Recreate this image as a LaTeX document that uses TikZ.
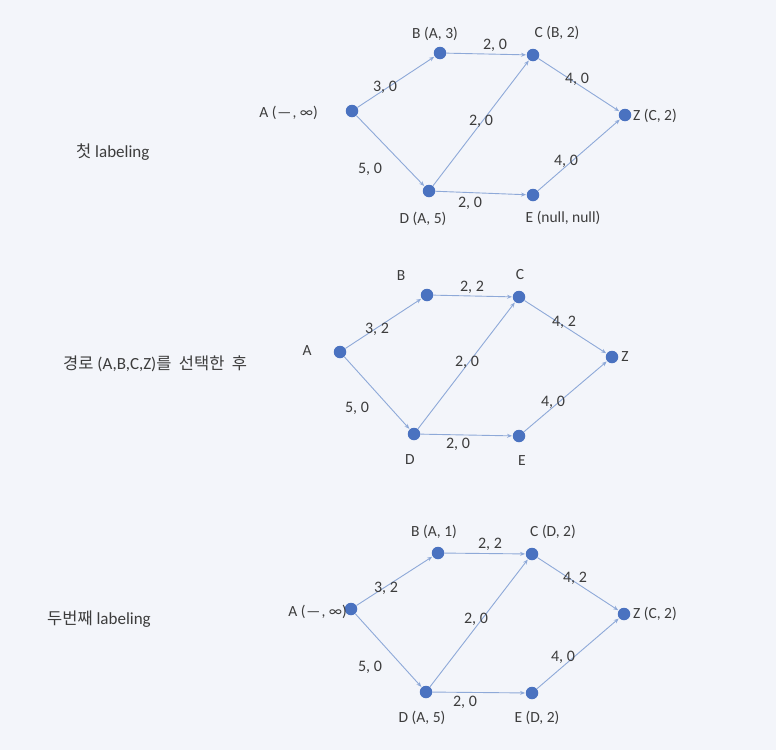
\documentclass[tikz,border=0pt]{standalone}
\usepackage{fontspec}
\setmainfont{Carlito}
\newfontfamily\kr{Noto Sans CJK KR}
\newcommand{\krt}[1]{{\kr\fontsize{16.5}{18}\selectfont #1}}
\usetikzlibrary{arrows.meta}
\definecolor{bg}{HTML}{F3F5FA}
\definecolor{dotc}{HTML}{4A72C0}
\definecolor{edgec}{HTML}{8EA9D8}
\definecolor{txt}{HTML}{3C3C3C}
\tikzset{
  dot/.style={circle,fill=dotc,inner sep=0pt,minimum size=12.5pt},
  lbl/.style={text=txt,font=\fontsize{15.5}{18}\selectfont,inner sep=0pt},
  elbl/.style={text=txt,font=\fontsize{16}{18}\selectfont,inner sep=0pt},
  side/.style={text=txt,font=\fontsize{17}{19}\selectfont,inner sep=0pt},
  edge/.style={draw=edgec,line width=0.9pt,-{Stealth[length=5pt,width=4pt]},shorten >=0.5pt},
}
\begin{document}
\begin{tikzpicture}[x=1pt,y=-1pt]
\useasboundingbox (0,0) rectangle (776,750);
\fill[bg] (0,0) rectangle (776,750);

% ---------- graph 1 ----------
\node[dot] (a1) at (352,111) {};
\node[dot] (b1) at (440,53) {};
\node[dot] (c1) at (533,55) {};
\node[dot] (z1) at (625,115) {};
\node[dot] (d1) at (429,191) {};
\node[dot] (e1) at (533,195) {};
\draw[edge] (a1) -- (b1);
\draw[edge] (b1) -- (c1);
\draw[edge] (c1) -- (z1);
\draw[edge] (a1) -- (d1);
\draw[edge] (d1) -- (c1);
\draw[edge] (d1) -- (e1);
\draw[edge] (e1) -- (z1);
\node[lbl,anchor=east] (la1) at (318,113) {A (\kern1pt—\kern1pt, ∞)};
\node[lbl] (lb1) at (435,34) {B (A, 3)};
\node[lbl] (lc1) at (557,33) {C (B, 2)};
\node[lbl,anchor=west] (lz1) at (633,116) {Z (C, 2)};
\node[lbl] (ld1) at (423,219) {D (A, 5)};
\node[lbl] (le1) at (563,218) {E (null, null)};
\node[elbl] (w1ab) at (385,87) {3, 0};
\node[elbl] (w1bc) at (495,45) {2, 0};
\node[elbl] (w1cz) at (577,79) {4, 0};
\node[elbl] (w1dc) at (481,121) {2, 0};
\node[elbl] (w1ad) at (370,169) {5, 0};
\node[elbl] (w1de) at (470,203) {2, 0};
\node[elbl] (w1ez) at (566,161) {4, 0};
\node[side,anchor=west] (s1) at (76,152) {\krt{첫} labeling};

% ---------- graph 2 ----------
\node[dot] (a2) at (340,352) {};
\node[dot] (b2) at (427,295) {};
\node[dot] (c2) at (519,297) {};
\node[dot] (z2) at (612,357) {};
\node[dot] (d2) at (414,434) {};
\node[dot] (e2) at (519,436) {};
\draw[edge] (a2) -- (b2);
\draw[edge] (b2) -- (c2);
\draw[edge] (c2) -- (z2);
\draw[edge] (a2) -- (d2);
\draw[edge] (d2) -- (c2);
\draw[edge] (d2) -- (e2);
\draw[edge] (e2) -- (z2);
\node[lbl] (la2) at (307,351) {A};
\node[lbl] (lb2) at (401,276) {B};
\node[lbl] (lc2) at (520,275) {C};
\node[lbl] (lz2) at (625,357) {Z};
\node[lbl] (ld2) at (410,460) {D};
\node[lbl] (le2) at (522,461) {E};
\node[elbl] (w2ab) at (377,329) {3, 2};
\node[elbl] (w2bc) at (472,287) {2, 2};
\node[elbl] (w2cz) at (564,322) {4, 2};
\node[elbl] (w2dc) at (467,362) {2, 0};
\node[elbl] (w2ad) at (357,408) {5, 0};
\node[elbl] (w2de) at (458,444) {2, 0};
\node[elbl] (w2ez) at (553,402) {4, 0};
\node[side,anchor=west] (s2) at (63,364) {\krt{경로} (A,B,C,Z)\krt{를\ \ 선택한\ \ 후}};

% ---------- graph 3 ----------
\node[dot] (a3) at (351,609) {};
\node[dot] (b3) at (438,553) {};
\node[dot] (c3) at (532,554) {};
\node[dot] (z3) at (624,614) {};
\node[dot] (d3) at (426,692) {};
\node[dot] (e3) at (532,693) {};
\draw[edge] (a3) -- (b3);
\draw[edge] (b3) -- (c3);
\draw[edge] (c3) -- (z3);
\draw[edge] (a3) -- (d3);
\draw[edge] (d3) -- (c3);
\draw[edge] (d3) -- (e3);
\draw[edge] (e3) -- (z3);
\node[lbl,anchor=east] (la3) at (347,612) {A (\kern1pt—\kern1pt, ∞)};
\node[lbl] (lb3) at (434,532) {B (A, 1)};
\node[lbl] (lc3) at (553,532) {C (D, 2)};
\node[lbl,anchor=west] (lz3) at (633,614) {Z (C, 2)};
\node[lbl] (ld3) at (422,718) {D (A, 5)};
\node[lbl] (le3) at (537,718) {E (D, 2)};
\node[elbl] (w3ab) at (386,588) {3, 2};
\node[elbl] (w3bc) at (490,544) {2, 2};
\node[elbl] (w3cz) at (575,578) {4, 2};
\node[elbl] (w3dc) at (476,619) {2, 0};
\node[elbl] (w3ad) at (370,667) {5, 0};
\node[elbl] (w3de) at (465,702) {2, 0};
\node[elbl] (w3ez) at (563,657) {4, 0};
\node[side,anchor=west] (s3) at (47,619) {\krt{두번째} labeling};
\end{tikzpicture}
\end{document}
